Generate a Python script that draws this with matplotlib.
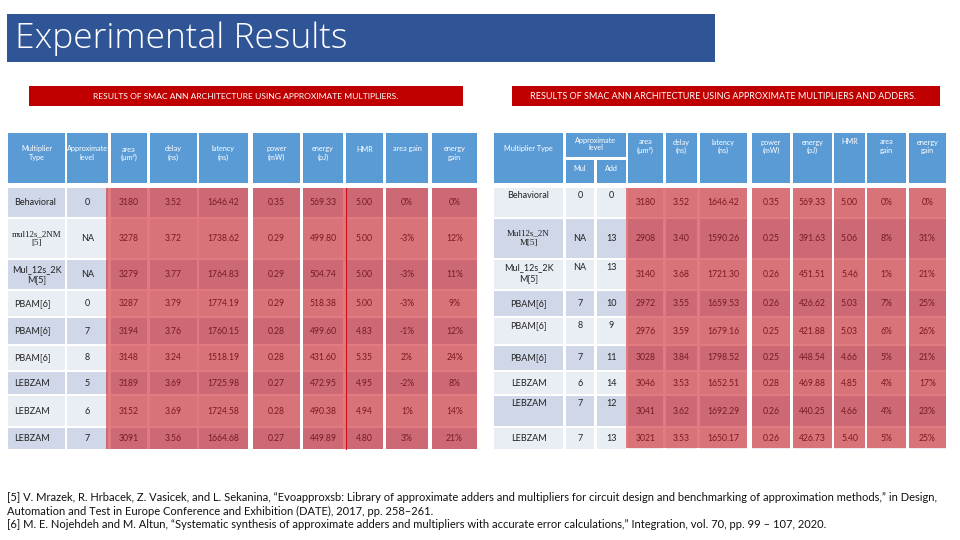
"""
Experimental results slide: two tables of SMAC ANN results
(approximate multipliers / approximate multipliers and adders)
"""
import matplotlib
matplotlib.use("Agg")
import matplotlib.pyplot as plt
from matplotlib.patches import Rectangle

plt.rcParams['font.family'] = ['Lato', 'DejaVu Sans']

# ---- data: left table (approximate multipliers) ----
left_headers = ["Multiplier\nType", "Approximate\nlevel", "area\n(µm²)", "delay\n(ns)",
                "latency\n(ns)", "power\n(mW)", "energy\n(pJ)", "HMR", "area gain", "energy\ngain"]
left_types = ["Behavioral", "mul12s_2NM\n[5]", "Mul_12s_2K\nM[5]", "PBAM[6]", "PBAM[6]",
              "PBAM[6]", "LEBZAM", "LEBZAM", "LEBZAM"]
left_level = ["0", "NA", "NA", "0", "7", "8", "5", "6", "7"]
left_area = ["3180", "3278", "3279", "3287", "3194", "3148", "3189", "3152", "3091"]
left_delay = ["3.52", "3.72", "3.77", "3.79", "3.76", "3.24", "3.69", "3.69", "3.56"]
left_latency = ["1646.42", "1738.62", "1764.83", "1774.19", "1760.15", "1518.19",
                "1725.98", "1724.58", "1664.68"]
left_power = ["0.35", "0.29", "0.29", "0.29", "0.28", "0.28", "0.27", "0.28", "0.27"]
left_energy = ["569.33", "499.80", "504.74", "518.38", "499.60", "431.60", "472.95",
               "490.38", "449.89"]
left_hmr = ["5.00", "5.00", "5.00", "5.00", "4.83", "5.35", "4.95", "4.94", "4.80"]
left_area_gain = ["0%", "-3%", "-3%", "-3%", "-1%", "2%", "-2%", "1%", "3%"]
left_energy_gain = ["0%", "12%", "11%", "9%", "12%", "24%", "8%", "14%", "21%"]

# ---- data: right table (approximate multipliers and adders) ----
right_headers = ["Multiplier Type", "Mul", "Add", "area\n(µm²)", "delay\n(ns)", "latency\n(ns)",
                 "power\n(mW)", "energy\n(pJ)", "HMR", "area\ngain", "energy\ngain"]
right_types = ["Behavioral", "Mul12s_2N\nM[5]", "Mul_12s_2K\nM[5]", "PBAM[6]", "PBAM[6]",
               "PBAM[6]", "LEBZAM", "LEBZAM", "LEBZAM"]
right_mul = ["0", "NA", "NA", "7", "8", "7", "6", "7", "7"]
right_add = ["0", "13", "13", "10", "9", "11", "14", "12", "13"]
right_area = ["3180", "2908", "3140", "2972", "2976", "3028", "3046", "3041", "3021"]
right_delay = ["3.52", "3.40", "3.68", "3.55", "3.59", "3.84", "3.53", "3.62", "3.53"]
right_latency = ["1646.42", "1590.26", "1721.30", "1659.53", "1679.16", "1798.52",
                 "1652.51", "1692.29", "1650.17"]
right_power = ["0.35", "0.25", "0.26", "0.26", "0.25", "0.25", "0.28", "0.26", "0.26"]
right_energy = ["569.33", "391.63", "451.51", "426.62", "421.88", "448.54", "469.88",
                "440.25", "426.73"]
right_hmr = ["5.00", "5.06", "5.46", "5.03", "5.03", "4.66", "4.85", "4.66", "5.40"]
right_area_gain = ["0%", "8%", "1%", "7%", "6%", "5%", "4%", "4%", "5%"]
right_energy_gain = ["0%", "31%", "21%", "25%", "26%", "21%", "17%", "23%", "25%"]

title = "Experimental Results"
left_banner = "RESULTS OF SMAC ANN ARCHITECTURE USING APPROXIMATE MULTIPLIERS."
right_banner = "RESULTS OF SMAC ANN ARCHITECTURE USING APPROXIMATE MULTIPLIERS AND ADDERS."
footnote = ("[5] V. Mrazek, R. Hrbacek, Z. Vasicek, and L. Sekanina, \u201cEvoapproxsb: Library of "
            "approximate adders and multipliers for circuit design and benchmarking of approximation "
            "methods,\u201d in Design,\nAutomation and Test in Europe Conference and Exhibition (DATE), "
            "2017, pp. 258\u2013261.\n[6] M. E. Nojehdeh and M. Altun, \u201cSystematic synthesis of "
            "approximate adders and multipliers with accurate error calculations,\u201d Integration, "
            "vol. 70, pp. 99 \u2013 107, 2020.")

# ---- layout (pixels) ----
HEADER_BLUE = "#5B9BD5"
BAND_DARK = "#CFD7E8"
BAND_LIGHT = "#E9EDF4"
RED_OVER = "#CA0F16"
RED_TEXT = "#7A1A22"
HDR_FS = 5.2

rows_y = [(188, 217), (219, 258), (260, 289), (291, 316), (318, 344),
          (346, 370), (372, 394), (396, 426), (428, 449)]
left_cols = [(8, 65), (67, 108), (111, 147), (150, 197), (199, 248), (253, 300),
             (303, 343), (346, 383), (386, 428), (432, 477)]
right_cols = [(494, 563), (566, 594), (597, 626), (628, 663), (666, 697), (700, 747),
              (752, 790), (793, 832), (834, 865), (867, 906), (909, 946)]
left_red_blocks = [(106, 248), (253, 300), (303, 383), (386, 428), (432, 477)]
right_red_blocks = [(626, 747), (752, 790), (793, 832), (834, 865), (867, 906), (909, 946)]


def cell(ax, x0, x1, y0, y1, color):
    ax.add_patch(Rectangle((x0, y0), x1 - x0, y1 - y0, facecolor=color,
                           edgecolor="none", zorder=1))


def main():
    fig = plt.figure(figsize=(9.6, 5.4), dpi=100)
    ax = fig.add_axes([0, 0, 1, 1])
    ax.set_xlim(0, 960)
    ax.set_ylim(540, 0)
    ax.axis("off")

    # title bar
    ax.add_patch(Rectangle((7, 14), 708, 48, facecolor="#2F5597", edgecolor="none"))
    ax.text(15, 39, title, color="white", fontsize=25.5, fontweight="light",
            family=["Open Sans", "Lato"], va="center", ha="left")

    # banners
    ax.add_patch(Rectangle((29, 86), 434, 20, facecolor="#C00000", edgecolor="none"))
    ax.text(246, 96.5, left_banner, color="white", fontsize=6.1, ha="center", va="center")
    ax.add_patch(Rectangle((512, 86), 428, 20, facecolor="#C00000", edgecolor="none"))
    ax.text(723, 96.5, right_banner, color="white", fontsize=6.45, ha="center", va="center")

    # ---------- left table ----------
    for (x0, x1), h in zip(left_cols, left_headers):
        cell(ax, x0, x1, 133, 183, HEADER_BLUE)
        ax.text((x0 + x1) / 2, 145.5, h, color="white", fontsize=HDR_FS, ha="center",
                va="top", linespacing=1.25, zorder=3)

    left_data = [left_area, left_delay, left_latency, left_power, left_energy,
                 left_hmr, left_area_gain, left_energy_gain]
    for i, (y0, y1) in enumerate(rows_y):
        band = BAND_DARK if i % 2 == 0 else BAND_LIGHT
        yc = (y0 + y1) / 2
        for (x0, x1) in left_cols:
            cell(ax, x0, x1, y0, y1, band)
        x0, x1 = left_cols[0]
        if "\n" in left_types[i]:
            fam = ['Liberation Serif'] if left_types[i].startswith("mul") else ['Lato']
            ax.text((x0 + x1) / 2, yc, left_types[i], fontsize=6.5, ha="center",
                    va="center", color="#222222", family=fam, zorder=3)
        else:
            ax.text(14, yc, left_types[i], fontsize=6.5, ha="left", va="center",
                    color="#222222", zorder=3)
        x0, x1 = left_cols[1]
        ax.text((x0 + x1) / 2, yc, left_level[i], fontsize=6.5, ha="center",
                va="center", color="#222222", zorder=3)
        for (x0, x1), col in zip(left_cols[2:], left_data):
            ax.text((x0 + x1) / 2, yc, col[i], fontsize=6.2, ha="center", va="center",
                    color=RED_TEXT, zorder=3)

    for x0, x1 in left_red_blocks:
        ax.add_patch(Rectangle((x0, 188), x1 - x0, 449 - 188, facecolor=RED_OVER,
                               alpha=0.55, edgecolor="none", zorder=2))
    ax.plot([346, 346], [188, 449], color="#D01018", lw=0.8, zorder=2)

    # ---------- right table ----------
    x0, x1 = right_cols[0]
    cell(ax, x0, x1, 133, 183, HEADER_BLUE)
    ax.text((x0 + x1) / 2, 149, right_headers[0], color="white", fontsize=HDR_FS,
            ha="center", va="center", zorder=3)
    cell(ax, 566, 626, 133, 157, HEADER_BLUE)
    ax.text(596, 144, "Approximate\nlevel", color="white", fontsize=HDR_FS, ha="center",
            va="center", linespacing=1.15, zorder=3)
    for (x0, x1), h in zip(right_cols[1:3], right_headers[1:3]):
        cell(ax, x0, x1, 160, 183, HEADER_BLUE)
        ax.text((x0 + x1) / 2, 168.5, h, color="white", fontsize=HDR_FS, ha="center",
                va="center", zorder=3)
    for (x0, x1), h in zip(right_cols[3:], right_headers[3:]):
        cell(ax, x0, x1, 133, 183, HEADER_BLUE)
        ax.text((x0 + x1) / 2, 138.5, h, color="white", fontsize=HDR_FS, ha="center",
                va="top", linespacing=1.25, zorder=3)

    right_data = [right_area, right_delay, right_latency, right_power, right_energy,
                  right_hmr, right_area_gain, right_energy_gain]
    top_rows = {0, 2, 4, 7}
    for i, (y0, y1) in enumerate(rows_y):
        band = BAND_LIGHT if i % 2 == 0 else BAND_DARK
        yc = (y0 + y1) / 2
        for (x0, x1) in right_cols:
            cell(ax, x0, x1, y0, y1, band)
        if i in top_rows:
            ty, tva = y0 + 3, "top"
        else:
            ty, tva = yc, "center"
        labels = [right_types[i], right_mul[i], right_add[i]]
        for (x0, x1), lab in zip(right_cols[:3], labels):
            fam = ['Liberation Serif'] if lab.startswith("Mul12") else ['Lato']
            ax.text((x0 + x1) / 2, ty, lab, fontsize=6.5, ha="center", va=tva,
                    color="#222222", family=fam, linespacing=1.25, zorder=3)
        for (x0, x1), col in zip(right_cols[3:], right_data):
            ax.text((x0 + x1) / 2, yc, col[i], fontsize=6.2, ha="center", va="center",
                    color=RED_TEXT, zorder=3)

    for x0, x1 in right_red_blocks:
        ax.add_patch(Rectangle((x0, 188), x1 - x0, 448 - 188, facecolor=RED_OVER,
                               alpha=0.55, edgecolor="none", zorder=2))

    # references
    ax.text(7, 492, footnote, fontsize=8.0, ha="left", va="top", color="#111111",
            linespacing=1.28)

    fig.savefig("out.png", dpi=100)


if __name__ == "__main__":
    main()
